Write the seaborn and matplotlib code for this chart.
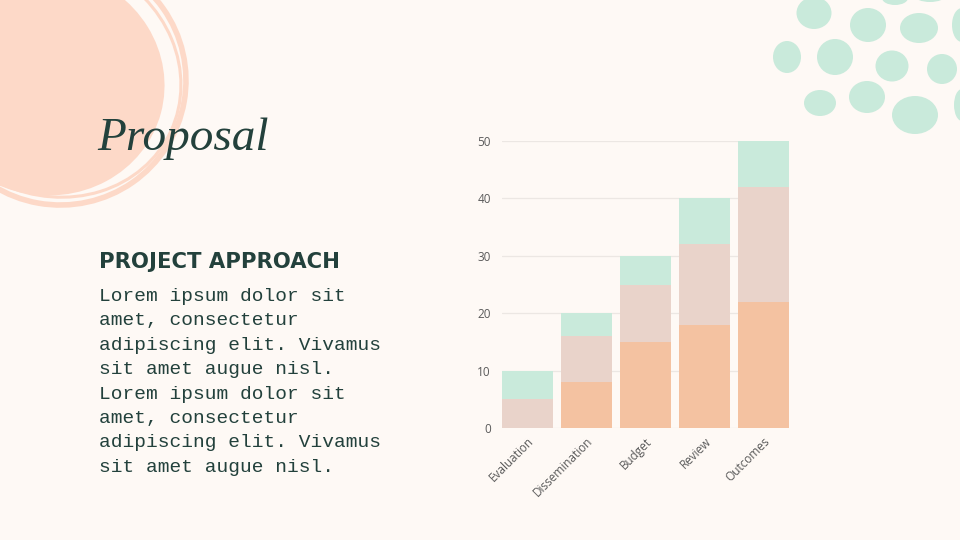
import matplotlib
matplotlib.use("Agg")
import matplotlib.pyplot as plt
import seaborn as sns
import pandas as pd
from matplotlib.patches import Ellipse

# chart data
categories = ["Evaluation", "Dissemination", "Budget", "Review", "Outcomes"]
base_vals = [0, 8, 15, 18, 22]
mid_vals = [5, 8, 10, 14, 20]
top_vals = [5, 4, 5, 8, 8]
y_ticks = [0, 10, 20, 30, 40, 50]

title_text = "Proposal"
heading_text = "PROJECT APPROACH"
body_lines = [
    "Lorem ipsum dolor sit",
    "amet, consectetur",
    "adipiscing elit. Vivamus",
    "sit amet augue nisl.",
    "Lorem ipsum dolor sit",
    "amet, consectetur",
    "adipiscing elit. Vivamus",
    "sit amet augue nisl.",
]

BG = "#fef9f5"
ORANGE = "#f4c2a1"
PINK = "#e9d3ca"
MINT = "#c9eadb"
PEACH = "#fdd9c8"
DARK = "#23413c"

sns.set_theme(style="white")
plt.rcParams["font.family"] = ["Open Sans", "DejaVu Sans"]

df = pd.DataFrame({"cat": categories, "base": base_vals, "mid": mid_vals, "top": top_vals})
df["lvl2"] = df["base"] + df["mid"]
df["lvl3"] = df["lvl2"] + df["top"]

W, H = 960, 540
fig = plt.figure(figsize=(9.6, 5.4), dpi=100)
fig.patch.set_facecolor(BG)

# decorations layer in pixel coordinates
deco = fig.add_axes([0, 0, 1, 1])
deco.set_xlim(0, W)
deco.set_ylim(H, 0)
deco.axis("off")
deco.set_zorder(0)

deco.add_patch(Ellipse((45, 82), 240, 226, angle=15, color=PEACH, lw=0))
deco.add_patch(Ellipse((60, 80), 252, 250, angle=10, fill=False, ec=PEACH, lw=4))
deco.add_patch(Ellipse((52, 76), 262, 238, angle=25, fill=False, ec=PEACH, lw=2.2))

blobs = [
    (814, 13, 35, 32), (868, 25, 36, 34), (919, 28, 38, 30), (962, 25, 20, 34),
    (895, -2, 26, 14), (787, 57, 28, 32), (835, 57, 36, 36), (892, 66, 33, 31),
    (942, 69, 30, 30), (820, 103, 32, 26), (867, 97, 36, 32), (915, 115, 46, 38),
    (962, 105, 16, 32), (930, -4, 30, 12),
]
for bx, by, bw, bh in blobs:
    deco.add_patch(Ellipse((bx, by), bw, bh, color=MINT, lw=0))

deco.text(97, 150, title_text, fontsize=34, color=DARK, family="Liberation Serif",
          style="italic", va="baseline", ha="left")
deco.text(99, 268, heading_text, fontsize=15.2, color=DARK, family="DejaVu Sans",
          weight="bold", va="baseline", ha="left")
for i, line in enumerate(body_lines):
    deco.text(99, 301 + i * 24.4, line, fontsize=14, color=DARK,
              family="Liberation Mono", va="baseline", ha="left")

# chart
ax = fig.add_axes([502 / W, 112 / H, 287 / W, 287 / H])
ax.set_facecolor("none")
ax.set_zorder(1)
for col, c in [("lvl3", MINT), ("lvl2", PINK), ("base", ORANGE)]:
    sns.barplot(data=df, x="cat", y=col, color=c, saturation=1, width=0.86,
                linewidth=0, edgecolor="none", ax=ax, zorder=2)

ax.set_xlim(-0.43, 4.43)
ax.set_ylim(0, 50)
ax.set_yticks(y_ticks)
ax.yaxis.grid(True, color="#ece7e3", lw=0.9, zorder=0)
ax.set_axisbelow(True)
for s in ax.spines.values():
    s.set_visible(False)
ax.set_xlabel("")
ax.set_ylabel("")
ax.tick_params(axis="both", length=0, labelsize=8.5, labelcolor="#5a5a5a")
ax.tick_params(axis="y", pad=8)
ax.tick_params(axis="x", pad=5)
for lab in ax.get_xticklabels():
    lab.set_rotation(45)
    lab.set_ha("right")
    lab.set_rotation_mode("anchor")

fig.savefig("out.png", dpi=100, facecolor=BG)
